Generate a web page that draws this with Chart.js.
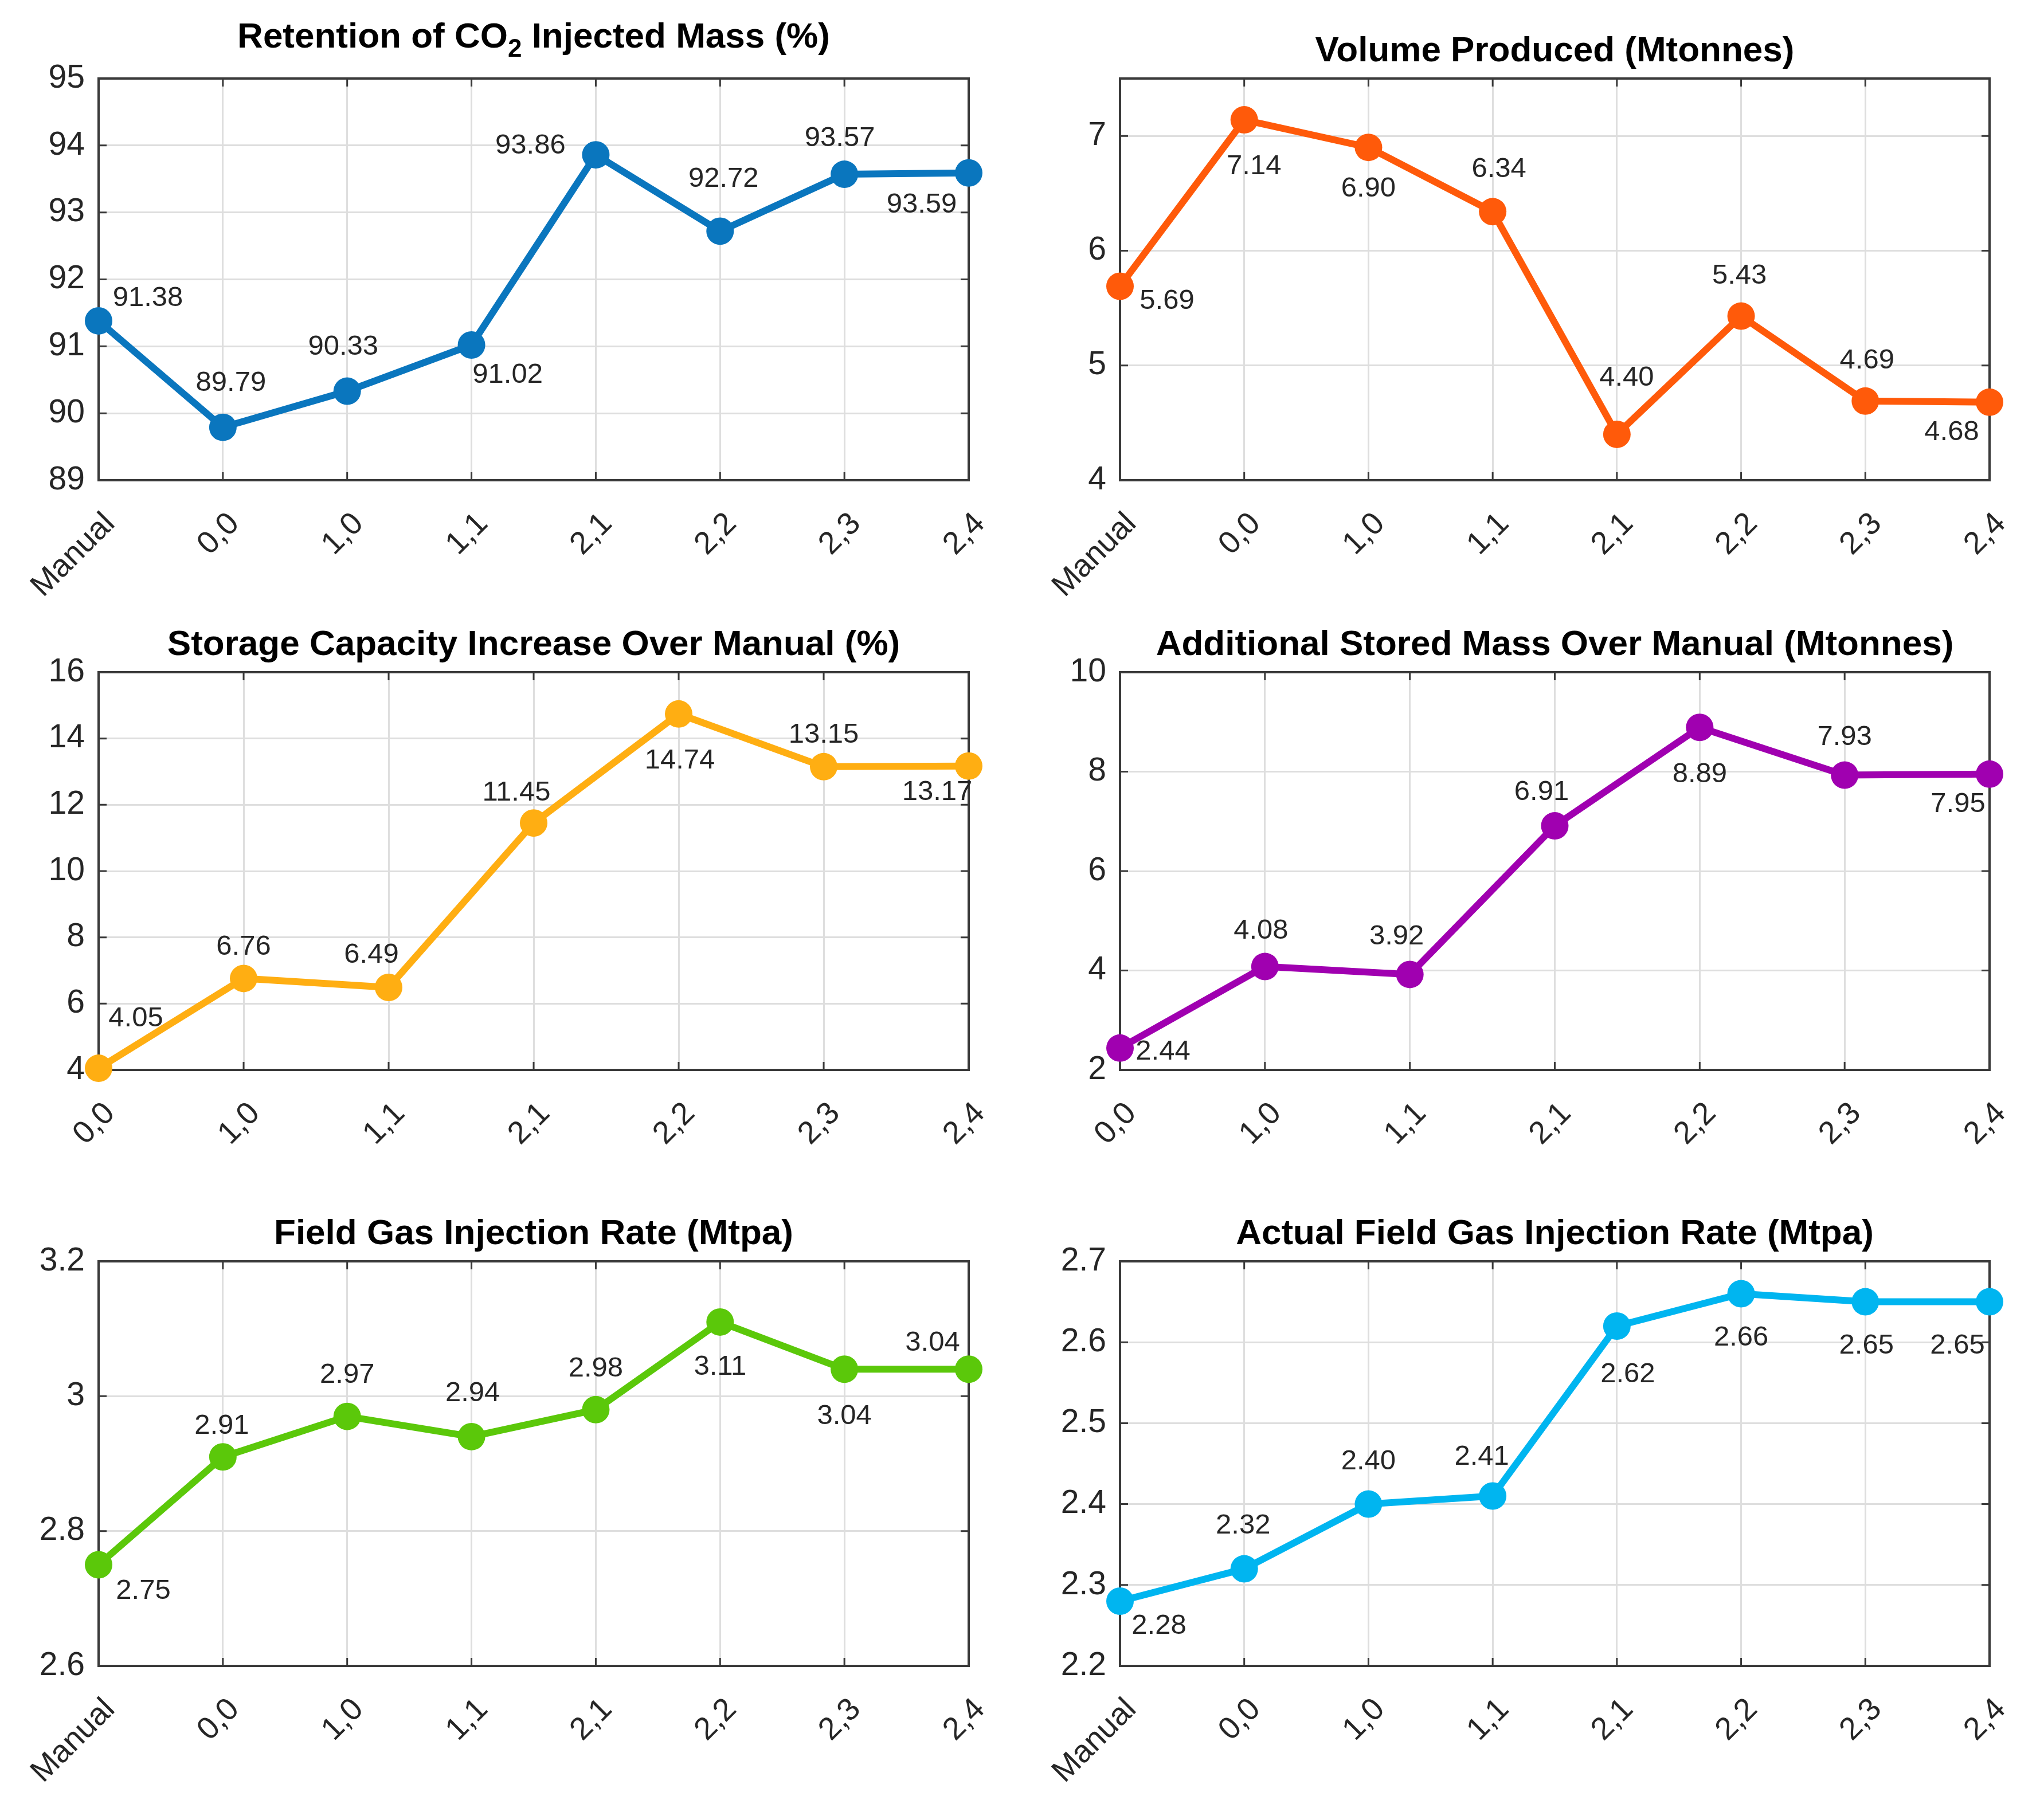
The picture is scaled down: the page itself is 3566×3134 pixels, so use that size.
<!DOCTYPE html>
<html>
<head>
<meta charset="utf-8">
<script src="https://cdn.jsdelivr.net/npm/chart.js@4.4.1/dist/chart.umd.min.js"></script>
<style>
  html, body { margin: 0; padding: 0; background: #fff; }
  #page { position: relative; width: 3566px; height: 3134px; background: #fff; overflow: hidden; }
  #page canvas { position: absolute; }
</style>
</head>
<body>
<div id="page"></div>
<script>
// categories
const catsAll = ['Manual', '0,0', '1,0', '1,1', '2,1', '2,2', '2,3', '2,4'];
const catsNoManual = ['0,0', '1,0', '1,1', '2,1', '2,2', '2,3', '2,4'];

// series values
const retention = [91.38, 89.79, 90.33, 91.02, 93.86, 92.72, 93.57, 93.59];
const volumeProduced = [5.69, 7.14, 6.90, 6.34, 4.40, 5.43, 4.69, 4.68];
const capacityIncrease = [4.05, 6.76, 6.49, 11.45, 14.74, 13.15, 13.17];
const additionalMass = [2.44, 4.08, 3.92, 6.91, 8.89, 7.93, 7.95];
const fieldRate = [2.75, 2.91, 2.97, 2.94, 2.98, 3.11, 3.04, 3.04];
const actualFieldRate = [2.28, 2.32, 2.40, 2.41, 2.62, 2.66, 2.65, 2.65];

// y tick labels
const retentionTicks = [89, 90, 91, 92, 93, 94, 95];
const volumeTicks = [4, 5, 6, 7];
const capacityTicks = [4, 6, 8, 10, 12, 14, 16];
const massTicks = [2, 4, 6, 8, 10];
const fieldTicks = [2.6, 2.8, 3, 3.2];
const actualTicks = [2.2, 2.3, 2.4, 2.5, 2.6, 2.7];

// value label offsets (pixels from the marker, label centre)
const retentionLabelOff = [[86,-39],[14,-77],[-7,-77],[63,52],[-114,-16],[6,-91],[-8,-63],[-82,56]];
const volumeLabelOff = [[82,26],[17,81],[0,72],[11,-74],[17,-98],[-3,-70],[3,-70],[-66,53]];
const capacityLabelOff = [[65,-87],[0,-55],[-30,-57],[-30,-53],[2,82],[0,-55],[-55,46]];
const massLabelOff = [[75,7],[-7,-62],[-23,-66],[-23,-59],[0,82],[0,-66],[-55,53]];
const fieldLabelOff = [[78,46],[-2,-54],[0,-72],[2,-75],[0,-71],[0,79],[0,82],[-63,-46]];
const actualLabelOff = [[68,43],[-2,-75],[0,-74],[-19,-68],[19,85],[0,77],[2,77],[-56,77]];

const panels = [
  { title: 'Retention of CO₂ Injected Mass (%)', labels: catsAll, data: retention, ticks: retentionTicks,
    min: 89, max: 95, color: '#0A76BE', off: retentionLabelOff, col: 0, row: 0 },
  { title: 'Volume Produced (Mtonnes)', labels: catsAll, data: volumeProduced, ticks: volumeTicks,
    min: 4, max: 7.5, color: '#FF5A0A', off: volumeLabelOff, col: 1, row: 0 },
  { title: 'Storage Capacity Increase Over Manual (%)', labels: catsNoManual, data: capacityIncrease, ticks: capacityTicks,
    min: 4, max: 16, color: '#FFAE12', off: capacityLabelOff, col: 0, row: 1 },
  { title: 'Additional Stored Mass Over Manual (Mtonnes)', labels: catsNoManual, data: additionalMass, ticks: massTicks,
    min: 2, max: 10, color: '#A000B0', off: massLabelOff, col: 1, row: 1 },
  { title: 'Field Gas Injection Rate (Mtpa)', labels: catsAll, data: fieldRate, ticks: fieldTicks,
    min: 2.6, max: 3.2, color: '#5BC80A', off: fieldLabelOff, col: 0, row: 2 },
  { title: 'Actual Field Gas Injection Rate (Mtpa)', labels: catsAll, data: actualFieldRate, ticks: actualTicks,
    min: 2.2, max: 2.7, color: '#00B5F0', off: actualLabelOff, col: 1, row: 2 }
];

// plot-area placement on the page
const colBoxes = [{ x: 172, w: 1518 }, { x: 1954, w: 1517 }];
const rowBoxes = [{ y: 137, h: 701 }, { y: 1173, h: 694 }, { y: 2201, h: 706 }];
const LEFT = 172, TOP = 140, RIGHT = 95, BOTTOM = 260;

const FONT = "'Liberation Sans', Arial, Helvetica, sans-serif";
const AXIS_COLOR = '#3a3a3a';
const TEXT_COLOR = '#262626';
const GRID_COLOR = '#dedede';

// box + inward tick marks, drawn under the data like MATLAB
const boxPlugin = {
  id: 'box',
  beforeDatasetsDraw(chart) {
    const { ctx, chartArea: a, scales } = chart;
    ctx.save();
    ctx.strokeStyle = AXIS_COLOR;
    ctx.lineWidth = 4;
    ctx.strokeRect(a.left, a.top, a.right - a.left, a.bottom - a.top);
    ctx.lineWidth = 3;
    const len = 14;
    ctx.beginPath();
    scales.y.ticks.forEach(t => {
      const y = scales.y.getPixelForValue(t.value);
      ctx.moveTo(a.left, y); ctx.lineTo(a.left + len, y);
      ctx.moveTo(a.right, y); ctx.lineTo(a.right - len, y);
    });
    scales.x.ticks.forEach((t, i) => {
      const x = scales.x.getPixelForTick(i);
      ctx.moveTo(x, a.bottom); ctx.lineTo(x, a.bottom - len);
      ctx.moveTo(x, a.top); ctx.lineTo(x, a.top + len);
    });
    ctx.stroke();
    ctx.restore();
  }
};

// value labels beside each marker
const valueLabelPlugin = {
  id: 'valueLabels',
  afterDatasetsDraw(chart, args, opts) {
    const { ctx } = chart;
    const meta = chart.getDatasetMeta(0);
    const data = chart.data.datasets[0].data;
    ctx.save();
    ctx.font = '49px ' + FONT;
    ctx.fillStyle = TEXT_COLOR;
    ctx.textAlign = 'center';
    ctx.textBaseline = 'middle';
    meta.data.forEach((pt, i) => {
      const o = opts.offsets[i];
      ctx.fillText(data[i].toFixed(2), pt.x + o[0], pt.y + o[1]);
    });
    ctx.restore();
  }
};

// title with optional subscript 2
const titlePlugin = {
  id: 'panelTitle',
  afterDraw(chart, args, opts) {
    const { ctx, chartArea: a } = chart;
    const text = opts.text;
    const cx = (a.left + a.right) / 2;
    const main = 'bold 62px ' + FONT;
    const sub = 'bold 44px ' + FONT;
    ctx.save();
    ctx.fillStyle = '#000';
    ctx.textBaseline = 'alphabetic';
    ctx.textAlign = 'left';
    const idx = text.indexOf('₂');
    if (idx < 0) {
      ctx.font = main;
      const w = ctx.measureText(text).width;
      ctx.fillText(text, cx - w / 2, a.top - 30);
    } else {
      const p1 = text.slice(0, idx), p2 = text.slice(idx + 1);
      ctx.font = main;
      const w1 = ctx.measureText(p1).width, w3 = ctx.measureText(p2).width;
      ctx.font = sub;
      const w2 = ctx.measureText('2').width;
      let x = cx - (w1 + w2 + w3) / 2;
      const base = a.top - 54;
      ctx.font = main; ctx.fillText(p1, x, base); x += w1;
      ctx.font = sub; ctx.fillText('2', x, base + 16); x += w2;
      ctx.font = main; ctx.fillText(p2, x, base);
    }
    ctx.restore();
  }
};

const page = document.getElementById('page');
panels.forEach(p => {
  const c = colBoxes[p.col], r = rowBoxes[p.row];
  const canvas = document.createElement('canvas');
  const W = LEFT + c.w + RIGHT, H = TOP + r.h + BOTTOM;
  canvas.width = W; canvas.height = H;
  canvas.style.left = (c.x - LEFT) + 'px';
  canvas.style.top = (r.y - TOP) + 'px';
  canvas.style.width = W + 'px';
  canvas.style.height = H + 'px';
  page.appendChild(canvas);

  new Chart(canvas.getContext('2d'), {
    type: 'line',
    data: {
      labels: p.labels,
      datasets: [{
        data: p.data,
        borderColor: p.color,
        backgroundColor: p.color,
        pointBackgroundColor: p.color,
        pointBorderWidth: 0,
        pointRadius: 24,
        borderWidth: 12,
        tension: 0,
        clip: false
      }]
    },
    options: {
      responsive: false,
      devicePixelRatio: 1,
      animation: false,
      events: [],
      layout: { padding: { left: 0, top: TOP, right: RIGHT, bottom: 0 } },
      plugins: {
        legend: { display: false },
        tooltip: { enabled: false },
        title: { display: false },
        valueLabels: { offsets: p.off },
        panelTitle: { text: p.title }
      },
      scales: {
        x: {
          type: 'category',
          offset: false,
          grid: { color: GRID_COLOR, lineWidth: 3, drawTicks: false },
          border: { display: false },
          ticks: {
            autoSkip: false, maxRotation: 45, minRotation: 45, padding: 44, labelOffset: 20,
            color: TEXT_COLOR, font: { family: FONT, size: 55 }
          },
          afterFit(s) {
            s.height = BOTTOM;
            s.paddingLeft = 0; s.paddingRight = 0;
          }
        },
        y: {
          min: p.min, max: p.max,
          grid: { color: GRID_COLOR, lineWidth: 3, drawTicks: false },
          border: { display: false },
          ticks: {
            padding: 24, color: TEXT_COLOR, font: { family: FONT, size: 57 },
            callback: v => String(v)
          },
          afterBuildTicks(s) { s.ticks = p.ticks.map(v => ({ value: v })); },
          afterFit(s) { s.width = LEFT; s.paddingTop = 0; s.paddingBottom = 0; }
        }
      }
    },
    plugins: [boxPlugin, valueLabelPlugin, titlePlugin]
  });
});
</script>
</body>
</html>
